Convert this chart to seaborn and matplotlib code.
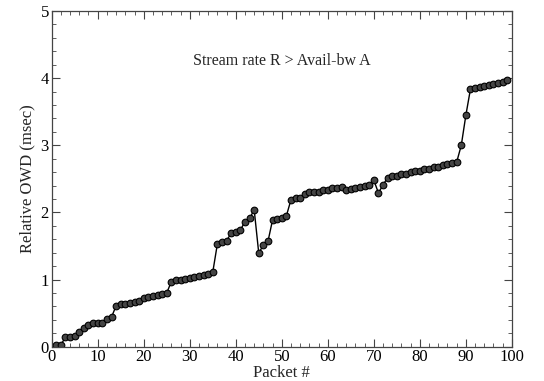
import matplotlib
matplotlib.use("Agg")
import matplotlib.pyplot as plt
import seaborn as sns
import pandas as pd
from matplotlib.ticker import MultipleLocator

packets = list(range(100))
owd = [0.00, 0.02, 0.03, 0.14, 0.15, 0.16, 0.22, 0.28, 0.33, 0.35,
       0.36, 0.36, 0.42, 0.44, 0.61, 0.63, 0.64, 0.65, 0.67, 0.68,
       0.73, 0.74, 0.76, 0.77, 0.79, 0.80, 0.97, 0.99, 1.00, 1.01,
       1.02, 1.04, 1.05, 1.07, 1.09, 1.11, 1.53, 1.56, 1.58, 1.69,
       1.71, 1.74, 1.86, 1.91, 2.04, 1.39, 1.52, 1.57, 1.89, 1.90,
       1.91, 1.95, 2.19, 2.21, 2.22, 2.28, 2.30, 2.30, 2.31, 2.33,
       2.34, 2.36, 2.37, 2.38, 2.33, 2.35, 2.36, 2.38, 2.39, 2.41,
       2.48, 2.29, 2.41, 2.52, 2.54, 2.55, 2.57, 2.58, 2.60, 2.61,
       2.62, 2.64, 2.65, 2.67, 2.68, 2.70, 2.72, 2.73, 2.75, 3.00,
       3.45, 3.84, 3.86, 3.87, 3.89, 3.90, 3.92, 3.93, 3.95, 3.97]

df = pd.DataFrame({"packet": packets, "owd": owd})

sns.set_style("ticks")
plt.rcParams['font.family'] = ['Liberation Serif', 'DejaVu Serif']

fig = plt.figure(figsize=(5.44, 3.81), dpi=100)
ax = fig.add_axes([0.095, 0.09, 0.846, 0.881])

sns.lineplot(data=df, x="packet", y="owd", ax=ax, color="black", linewidth=1.0,
             marker="o", markersize=4.8, markerfacecolor="#444444",
             markeredgecolor="black", markeredgewidth=0.8)

ax.set_xlim(0, 100)
ax.set_ylim(0, 5)
ax.xaxis.set_major_locator(MultipleLocator(10))
ax.xaxis.set_minor_locator(MultipleLocator(2))
ax.yaxis.set_major_locator(MultipleLocator(1))
ax.yaxis.set_minor_locator(MultipleLocator(0.2))
ax.tick_params(which="both", direction="in", top=True, right=True, colors="#444444",
               labelcolor="black", labelsize=12, pad=2)
ax.tick_params(which="major", length=6, width=0.8)
ax.tick_params(which="minor", length=3, width=0.6)
for s in ax.spines.values():
    s.set_color("#444444")
    s.set_linewidth(0.9)

ax.set_xlabel("Packet #", fontsize=12, labelpad=0)
ax.set_ylabel("Relative OWD (msec)", fontsize=12, labelpad=4)
ax.text(50, 4.26, "Stream rate R > Avail-bw A", fontsize=11.5, ha="center", va="center")

fig.savefig("out.png", dpi=100)
